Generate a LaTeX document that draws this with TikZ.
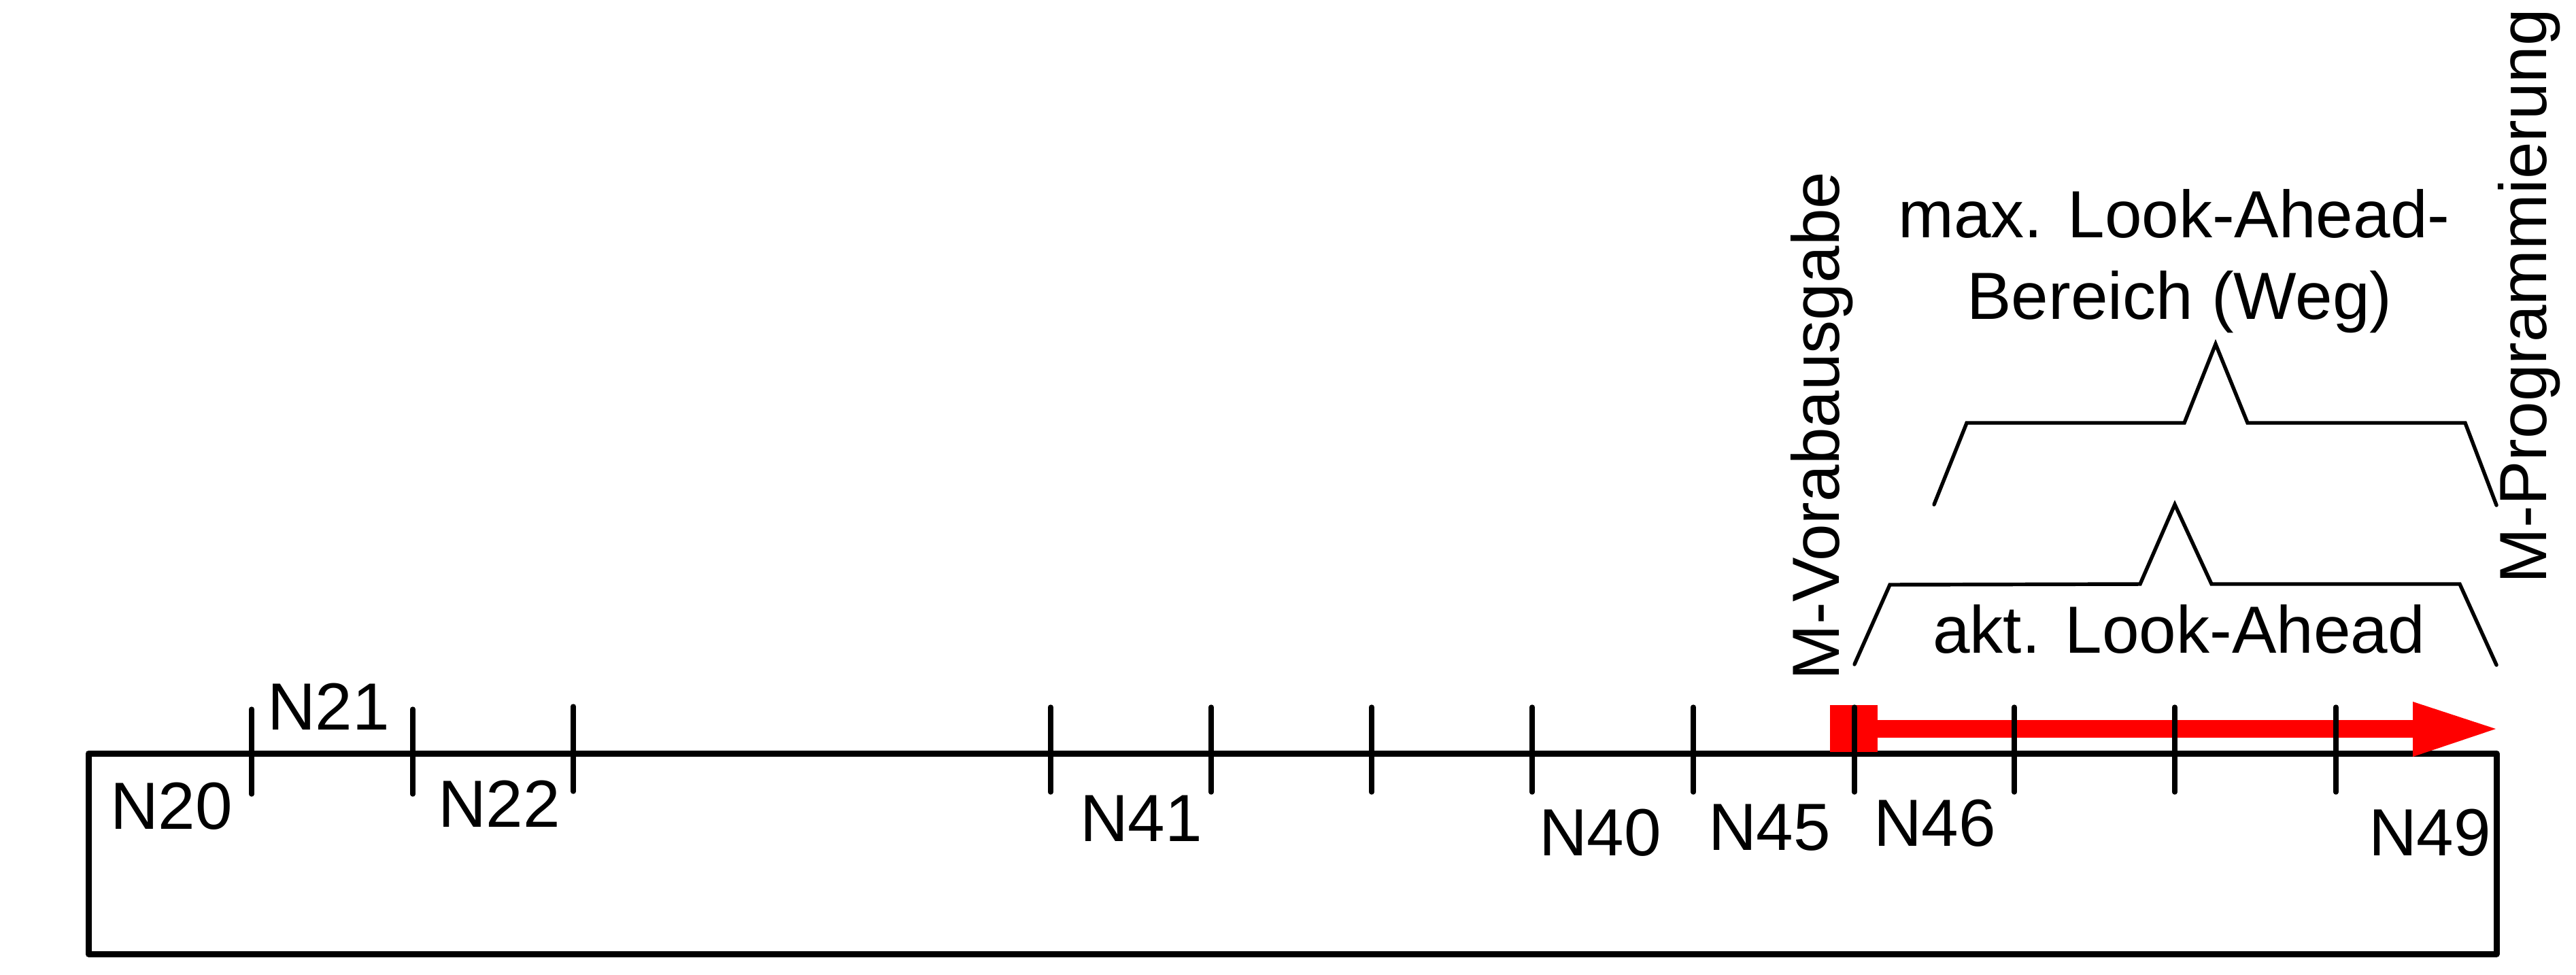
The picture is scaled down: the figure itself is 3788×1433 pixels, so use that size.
\documentclass[tikz,border=0pt]{standalone}
\usepackage{fontspec}
\setmainfont{Liberation Sans}
\begin{document}
\begin{tikzpicture}[x=0.01cm,y=-0.01cm,
  lbl/.style={inner sep=0pt,outer sep=0pt,anchor=base,font=\fontsize{27.9pt}{34pt}\selectfont},
  rlbl/.style={lbl,anchor=base west,rotate=90},
  frame/.style={line width=2.56pt,line join=round,line cap=round},
  tick/.style={line width=2.1pt,line cap=round},
  brace/.style={line width=1.55pt,line join=miter,line cap=round},
  redc/.style={fill=red,draw=none}]
\useasboundingbox (0,0) rectangle (3788,1433);
% frame
\draw[frame] (130,1108) rectangle (3671,1403);
% red marker and arrow
\fill[redc] (2691,1037) rectangle (2761,1106);
\fill[redc] (2761,1059) rectangle (3550,1085);
\fill[redc] (3548,1032) -- (3670,1072) -- (3548,1113) -- cycle;
% ticks
\foreach \tx/\ty in {370/1043,607/1043,843/1039,1545/1040,1781/1040,2017/1040,2253/1040,2490/1040,2727/1040,2962/1040,3198/1040,3435/1040}
  \draw[tick] (\tx,\ty) -- ++(0,125);
% braces
\draw[brace] (2844,742) -- (2892,622) -- (3212,622) -- (3258,506) -- (3305,622) -- (3625,622) -- (3671,743);
\draw[brace] (2727,977) -- (2779,860) -- (3147,859) -- (3198,742) -- (3252,859) -- (3617,859) -- (3671,978);
% labels
\node[lbl] (n20) at (252,1219) {N20};
\node[lbl] (n21) at (483,1073) {N21};
\node[lbl] (n22) at (734,1216) {N22};
\node[lbl] (n41) at (1678,1237) {N41};
\node[lbl] (n40) at (2353,1258) {N40};
\node[lbl] (n45) at (2602,1250) {N45};
\node[lbl] (n46) at (2845,1244) {N46};
\node[lbl] (n49) at (3573,1258) {N49};
\node[lbl] (max1) at (3197,349) {max. Look-Ahead-};
\node[lbl] (max2) at (3205,469) {Bereich (Weg)};
\node[lbl] (akt) at (3204,960) {akt. Look-Ahead};
\node[rlbl] (mvor) at (2704,1000) {M-Vorabausgabe};
\node[rlbl] (mprog) at (3744,858) {M-Programmierung};
\end{tikzpicture}
\end{document}
